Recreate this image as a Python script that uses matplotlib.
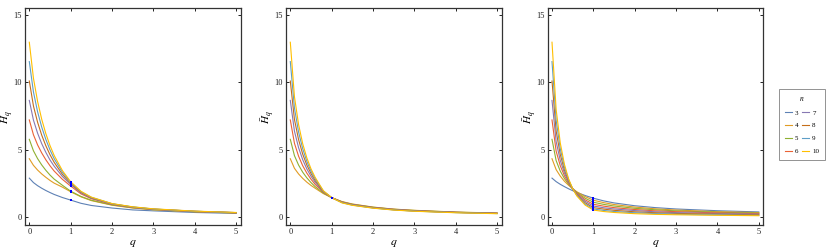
import matplotlib
matplotlib.use("Agg")
import matplotlib.pyplot as plt

plt.rcParams['font.family'] = ['Liberation Serif', 'DejaVu Serif']
plt.rcParams['mathtext.fontset'] = 'stix'

# ---- data ----
q_vals = [0, 0.1, 0.2, 0.3, 0.4, 0.5, 0.6, 0.8, 1, 1.25, 1.5, 2, 2.5, 3, 4, 5]
n_vals = [3, 4, 5, 6, 7, 8, 9, 10]

# left panel, one row per n = 3..10
panel1 = [
    [2.89, 2.56, 2.33, 2.14, 1.97, 1.82, 1.68, 1.45, 1.26, 1.02, 0.86, 0.67, 0.53, 0.46, 0.34, 0.27],
    [4.33, 3.84, 3.49, 3.20, 2.95, 2.72, 2.52, 2.22, 1.88, 1.50, 1.22, 0.88, 0.67, 0.54, 0.39, 0.30],
    [5.77, 4.92, 4.34, 3.87, 3.47, 3.12, 2.82, 2.36, 1.92, 1.53, 1.25, 0.90, 0.69, 0.55, 0.40, 0.31],
    [7.21, 6.11, 5.36, 4.76, 4.25, 3.81, 3.42, 2.80, 2.30, 1.72, 1.36, 0.94, 0.71, 0.57, 0.41, 0.32],
    [8.66, 7.20, 6.23, 5.45, 4.80, 4.24, 3.78, 3.01, 2.42, 1.79, 1.40, 0.96, 0.72, 0.58, 0.42, 0.32],
    [10.10, 8.25, 7.04, 6.08, 5.29, 4.63, 4.07, 3.17, 2.50, 1.84, 1.43, 0.98, 0.74, 0.59, 0.43, 0.33],
    [11.54, 9.29, 7.82, 6.68, 5.76, 4.99, 4.34, 3.32, 2.57, 1.88, 1.46, 0.99, 0.75, 0.60, 0.43, 0.33],
    [12.98, 10.31, 8.59, 7.26, 6.19, 5.31, 4.58, 3.45, 2.62, 1.91, 1.48, 1.00, 0.76, 0.61, 0.44, 0.34],
]

# middle panel, n = 4..10 (no n = 3 curve visible)
panel2 = [
    None,
    [4.33, 3.62, 3.20, 2.87, 2.59, 2.35, 2.14, 1.74, 1.44, 1.15, 0.97, 0.74, 0.59, 0.50, 0.37, 0.30],
    [5.77, 4.56, 3.86, 3.33, 2.91, 2.56, 2.26, 1.78, 1.44, 1.13, 0.95, 0.73, 0.58, 0.49, 0.36, 0.29],
    [7.21, 5.48, 4.52, 3.81, 3.26, 2.81, 2.43, 1.84, 1.44, 1.12, 0.93, 0.71, 0.57, 0.47, 0.35, 0.28],
    [8.66, 6.38, 5.15, 4.26, 3.57, 3.03, 2.58, 1.87, 1.44, 1.10, 0.92, 0.70, 0.56, 0.46, 0.35, 0.28],
    [10.10, 7.25, 5.75, 4.67, 3.86, 3.23, 2.71, 1.90, 1.44, 1.09, 0.90, 0.69, 0.54, 0.45, 0.34, 0.27],
    [11.54, 8.10, 6.31, 5.07, 4.13, 3.41, 2.84, 1.93, 1.44, 1.07, 0.89, 0.67, 0.53, 0.44, 0.33, 0.26],
    [12.98, 8.94, 6.87, 5.44, 4.39, 3.58, 2.95, 1.95, 1.44, 1.05, 0.87, 0.66, 0.52, 0.43, 0.32, 0.25],
]

# right panel, n = 3..10
panel3 = [
    [2.89, 2.63, 2.43, 2.26, 2.10, 1.96, 1.83, 1.60, 1.40, 1.20, 1.05, 0.84, 0.70, 0.60, 0.47, 0.38],
    [4.33, 3.52, 3.04, 2.66, 2.36, 2.10, 1.88, 1.52, 1.25, 1.07, 0.93, 0.74, 0.61, 0.52, 0.40, 0.33],
    [5.77, 4.19, 3.41, 2.86, 2.44, 2.10, 1.82, 1.40, 1.10, 0.94, 0.82, 0.65, 0.54, 0.46, 0.36, 0.29],
    [7.21, 4.89, 3.81, 3.06, 2.52, 2.10, 1.77, 1.28, 0.95, 0.81, 0.70, 0.56, 0.46, 0.40, 0.31, 0.25],
    [8.66, 5.60, 4.20, 3.27, 2.60, 2.10, 1.71, 1.17, 0.82, 0.69, 0.60, 0.48, 0.39, 0.33, 0.26, 0.21],
    [10.10, 6.39, 4.64, 3.49, 2.69, 2.10, 1.66, 1.06, 0.70, 0.59, 0.50, 0.39, 0.32, 0.27, 0.21, 0.17],
    [11.54, 7.19, 5.07, 3.71, 2.77, 2.10, 1.61, 0.97, 0.60, 0.49, 0.41, 0.32, 0.26, 0.21, 0.16, 0.13],
    [12.98, 7.98, 5.50, 3.92, 2.85, 2.10, 1.57, 0.89, 0.52, 0.41, 0.34, 0.25, 0.20, 0.17, 0.13, 0.10],
]

colors = ['#5E81B5', '#E19C24', '#8FB032', '#EB6235',
          '#8778B3', '#C56E1A', '#5D9EC7', '#FFBF00']

# ---- figure ----
fig = plt.figure(figsize=(8.3, 2.52), dpi=100)
W, H = 830, 252
lefts = [25, 286, 547.7]
ax_w, ax_top, ax_bot = 215.5, 8, 225

lines = []
for k, panel in enumerate([panel1, panel2, panel3]):
    ax = fig.add_axes([lefts[k] / W, (H - ax_bot) / H, ax_w / W, (ax_bot - ax_top) / H])
    for i, ys in enumerate(panel):
        if ys is None:
            continue
        ln, = ax.plot(q_vals, ys, color=colors[i], lw=0.8)
        if k == 0:
            lines.append(ln)
    # marks at q = 1
    q1 = q_vals.index(1)
    for ys in panel:
        if ys is None:
            continue
        ax.plot(1, ys[q1], 's', color='#0000FF', ms=2.0, mew=0, zorder=5)

    ax.set_xlim(-0.104, 5.106)
    ax.set_ylim(-0.59, 15.52)
    ax.set_xticks([0, 1, 2, 3, 4, 5])
    ax.set_yticks([0, 5, 10, 15])
    ax.tick_params(direction='in', top=True, right=True, length=2.5, width=0.7,
                   labelsize=6, pad=2, colors='#222222')
    for s in ax.spines.values():
        s.set_linewidth(0.9)
        s.set_color('#333333')
    ax.set_xlabel('$q$', fontsize=8.5, labelpad=1)
    ax.set_ylabel(r'$\bar{H}_q$', fontsize=8)
    ax.yaxis.set_label_coords(-0.04, 0.5)

# legend for the whole figure; handles from panel 1 hold all eight n
leg = fig.legend(lines, [str(n) for n in n_vals], ncol=2, title='$n$',
                 loc='center', bbox_to_anchor=(802 / W, 1 - 124.5 / H),
                 fontsize=5, title_fontsize=5.5, handlelength=1.0,
                 handletextpad=0.4, columnspacing=0.6, labelspacing=1.0,
                 frameon=True, fancybox=False, borderpad=0.8)
leg.get_frame().set_edgecolor('#777777')
leg.get_frame().set_linewidth(0.7)

fig.savefig('out.png', dpi=100)
